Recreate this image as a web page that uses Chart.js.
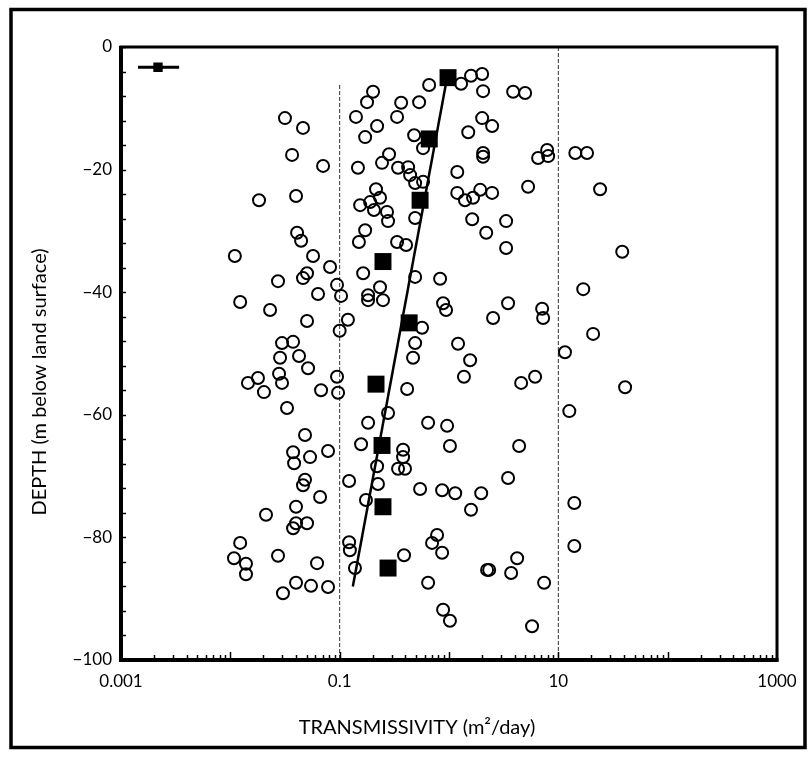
<!DOCTYPE html>
<html>
<head>
<meta charset="utf-8">
<script src="https://cdn.jsdelivr.net/npm/chart.js@4.4.0/dist/chart.umd.min.js"></script>
<style>
    html, body { margin: 0; padding: 0; background: #fff; }
</style>
</head>
<body>
<canvas id="myChart" width="809" height="758"></canvas>
<script>
// open circles: transmissivity (m2/day) and depth (m)
var circleT = [1.29, 1.59, 2.01, 0.658, 2.05, 3.86, 4.97, 0.202, 0.178, 0.365, 0.533, 0.141, 0.220, 0.335, 0.171, 0.480, 0.579, 1.50, 2.01, 2.48,
    2.05, 2.05, 6.53, 7.90, 8.07, 14.3, 18.3, 0.283, 0.244, 0.342, 0.423, 0.441, 0.490, 0.579, 0.147, 0.0705, 0.0462, 1.19, 1.19, 1.40,
    1.66, 1.93, 2.48, 5.29, 1.63, 3.33, 2.19, 3.33, 24.1, 0.215, 0.190, 0.234, 0.154, 0.206, 0.271, 0.277, 0.490, 0.171, 0.150, 0.335,
    0.405, 0.164, 0.490, 0.829, 0.0571, 0.0817, 0.0503, 0.0444, 0.0408, 0.0316, 0.0367, 0.0183, 0.0399, 0.0110, 0.0462, 0.0273, 0.0946, 0.103, 0.0634, 0.0123,
    0.0231, 0.0503, 0.119, 0.100, 0.0297, 0.0375, 0.0285, 0.0425, 0.0514, 0.0279, 0.0297, 0.0179, 0.0145, 0.0203, 0.0946, 0.0967, 0.0676, 0.0330, 0.0482, 0.0375,
    0.0383, 0.0536, 0.0783, 0.0482, 0.0462, 0.0662, 0.122, 0.0212, 0.0399, 0.0399, 0.0503, 0.0375, 0.0123, 0.0108, 0.0139, 0.0139, 0.0273, 0.0621, 0.0399, 0.0303,
    0.0547, 0.0783, 0.122, 0.124, 0.138, 0.234, 0.182, 0.182, 0.249, 0.883, 0.940, 2.53, 3.47, 7.11, 7.26, 16.9, 20.8, 11.5, 0.567, 0.490,
    0.469, 1.21, 1.56, 1.37, 4.57, 6.13, 12.6, 0.414, 0.277, 0.182, 0.644, 0.961, 1.02, 4.38, 0.157, 0.380, 0.380, 0.220, 0.342, 0.396,
    0.224, 3.47, 0.544, 0.865, 1.14, 1.97, 0.174, 1.59, 0.388, 0.778, 0.700, 0.865, 0.644, 2.23, 2.33, 3.70, 4.20, 7.41, 0.883, 1.02,
    5.75, 14.0, 14.0, 38.4, 40.8];
var circleDepth = [-6.0, -4.7, -4.4, -6.2, -7.2, -7.3, -7.5, -7.3, -9.0, -9.1, -9.0, -11.4, -12.9, -11.4, -14.7, -14.4, -16.5, -13.9, -11.6, -12.9,
    -17.3, -17.9, -18.1, -16.8, -17.8, -17.3, -17.3, -17.5, -18.9, -19.7, -19.6, -20.9, -22.2, -22.0, -19.7, -19.4, -13.2, -20.4, -23.8, -25.0,
    -24.6, -23.3, -23.8, -22.8, -28.1, -28.4, -30.3, -32.8, -23.2, -23.2, -25.3, -24.6, -25.8, -26.6, -26.9, -28.4, -27.9, -29.9, -31.8, -31.8,
    -32.3, -36.9, -37.5, -37.8, -34.1, -35.9, -36.9, -31.6, -30.3, -11.6, -17.6, -25.0, -24.3, -34.1, -37.7, -38.2, -38.8, -40.6, -40.3, -41.6,
    -42.9, -44.7, -44.5, -46.3, -48.3, -48.1, -50.7, -50.4, -52.4, -53.3, -54.8, -54.0, -54.8, -56.3, -53.8, -56.4, -56.0, -58.9, -63.3, -66.1,
    -67.9, -66.9, -65.9, -70.6, -71.5, -73.4, -70.8, -76.3, -75.0, -77.7, -77.7, -78.5, -80.9, -83.4, -84.3, -86.0, -83.0, -84.2, -87.4, -89.1,
    -87.9, -88.1, -80.8, -82.1, -85.0, -39.2, -40.5, -41.3, -41.3, -41.8, -42.9, -44.2, -41.8, -42.7, -44.2, -39.5, -46.8, -49.8, -45.8, -48.3,
    -50.7, -48.4, -51.1, -53.8, -54.8, -53.8, -59.4, -55.8, -59.7, -61.3, -61.3, -61.8, -65.1, -65.1, -64.8, -65.7, -66.9, -68.4, -68.8, -68.8,
    -71.3, -70.3, -72.1, -72.3, -72.8, -72.8, -73.9, -75.5, -82.9, -79.6, -80.9, -82.5, -87.4, -85.3, -85.3, -85.8, -83.4, -87.4, -91.8, -93.6,
    -94.5, -74.4, -81.4, -33.4, -55.5];

// filled squares (interval medians)
var squareT = [0.98, 0.66, 0.544, 0.249, 0.432, 0.215, 0.244, 0.249, 0.277];
var squareDepth = [-5, -15, -25, -35, -45, -55, -65, -75, -85];

// fitted line
var fitT = [0.96, 0.132];
var fitDepth = [-5, -88];

// reference lines
var refLine1T = [0.1, 0.1];
var refLine1Depth = [-6.2, -100];
var refLine2T = [10, 10];
var refLine2Depth = [0, -100];

// small bar symbol, top left
var markT = [0.00143, 0.00218, 0.0034];
var markDepth = [-3.3, -3.3, -3.3];

// axes
var xTickValues = [0.001, 0.1, 10, 1000];
var xTickText = ["0.001", "0.1", "10", "1000"];
var yTickValues = [-100, -80, -60, -40, -20, 0];
var xTitle = "TRANSMISSIVITY (m\u00b2/day)";
var yTitle = "DEPTH (m below land surface)";

function pts(xs, ys) {
    return xs.map(function (x, i) { return {x: x, y: ys[i]}; });
}

var framePlugin = {
    id: "frame",
    afterDraw: function (chart) {
        var ctx = chart.ctx;
        var ca = chart.chartArea;
        var xs = chart.scales.x;
        var ys = chart.scales.y;
        ctx.save();
        ctx.strokeStyle = "#000";

        // inner ticks on the log axis
        ctx.lineWidth = 1.5;
        for (var e = -3; e < 3; e++) {
            for (var k = 1; k < 10; k++) {
                var px = Math.round(xs.getPixelForValue(k * Math.pow(10, e))) + 0.5;
                var len = k === 1 ? 8 : 5;
                ctx.beginPath();
                ctx.moveTo(px, ca.bottom);
                ctx.lineTo(px, ca.bottom - len);
                ctx.stroke();
            }
        }
        // inner ticks on depth axis
        for (var d = -100; d <= 0; d += 4) {
            var py = Math.round(ys.getPixelForValue(d)) + 0.5;
            ctx.beginPath();
            ctx.moveTo(ca.left, py);
            ctx.lineTo(ca.left + 5, py);
            ctx.stroke();
        }

        // plot box
        ctx.lineWidth = 3;
        ctx.strokeRect(ca.left, ca.top, ca.right - ca.left, ca.bottom - ca.top);
        ctx.lineWidth = 4;
        ctx.beginPath();
        ctx.moveTo(ca.left, ca.top - 1);
        ctx.lineTo(ca.left, ca.bottom);
        ctx.lineTo(ca.right + 1.5, ca.bottom);
        ctx.stroke();

        // outer frame
        ctx.lineWidth = 3.5;
        ctx.strokeRect(11, 9.5, 794, 738);

        // axis titles
        ctx.fillStyle = "#000";
        ctx.font = "20px Lato";
        ctx.textAlign = "center";
        ctx.textBaseline = "middle";
        ctx.fillText(xTitle, 417, 728);
        ctx.translate(40, 382);
        ctx.rotate(-Math.PI / 2);
        ctx.fillText(yTitle, 0, 0);
        ctx.restore();
    }
};

var ctx = document.getElementById("myChart").getContext("2d");

var myChart = new Chart(ctx, {
    type: "scatter",
    data: {
        datasets: [{
            data: pts(refLine1T, refLine1Depth),
            showLine: true,
            borderColor: "#333",
            borderWidth: 1,
            borderDash: [4, 2],
            pointRadius: 0,
            order: 6
        }, {
            data: pts(refLine2T, refLine2Depth),
            showLine: true,
            borderColor: "#333",
            borderWidth: 1,
            borderDash: [4, 2],
            pointRadius: 0,
            order: 6
        }, {
            data: pts(circleT, circleDepth),
            pointStyle: "circle",
            pointRadius: 6,
            pointBorderWidth: 2,
            borderColor: "#000",
            backgroundColor: "rgba(0,0,0,0)",
            order: 4
        }, {
            data: pts(fitT, fitDepth),
            showLine: true,
            borderColor: "#000",
            borderWidth: 2.5,
            pointRadius: 0,
            order: 3
        }, {
            data: pts(squareT, squareDepth),
            pointStyle: "rect",
            pointRadius: 12,
            pointBorderWidth: 0,
            borderColor: "#000",
            backgroundColor: "#000",
            order: 2
        }, {
            data: pts(markT, markDepth),
            showLine: true,
            borderColor: "#000",
            borderWidth: 3,
            pointStyle: "rect",
            pointRadius: [0, 4.5, 0],
            backgroundColor: "#000",
            order: 1
        }]
    },
    options: {
        responsive: false,
        animation: false,
        layout: {
            padding: {left: 0, top: 47, right: 32, bottom: 0}
        },
        plugins: {
            legend: {display: false},
            tooltip: {enabled: false}
        },
        scales: {
            x: {
                type: "logarithmic",
                position: "bottom",
                min: 0.001,
                max: 1000,
                afterBuildTicks: function (axis) {
                    axis.ticks = xTickValues.map(function (v) { return {value: v}; });
                },
                afterFit: function (axis) { axis.height = 98; },
                grid: {display: false, drawTicks: false},
                border: {display: false},
                ticks: {
                    autoSkip: false,
                    maxRotation: 0,
                    padding: 11,
                    color: "#000",
                    font: {family: "Lato", size: 17},
                    callback: function (value) {
                        var i = xTickValues.indexOf(value);
                        return i >= 0 ? xTickText[i] : "";
                    }
                }
            },
            y: {
                type: "linear",
                position: "left",
                min: -100,
                max: 0,
                afterBuildTicks: function (axis) {
                    axis.ticks = yTickValues.map(function (v) { return {value: v}; });
                },
                afterFit: function (axis) { axis.width = 121; },
                grid: {display: false, drawTicks: false},
                border: {display: false},
                ticks: {
                    padding: 9,
                    color: "#000",
                    font: {family: "Lato", size: 17},
                    callback: function (value) {
                        return value === 0 ? "0" : "\u2212" + Math.abs(value);
                    }
                }
            }
        }
    },
    plugins: [framePlugin]
});
</script>
</body>
</html>
